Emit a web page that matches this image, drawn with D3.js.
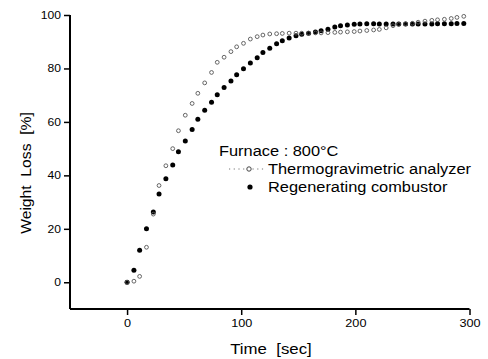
<!DOCTYPE html>
<html>
<head>
<meta charset="utf-8">
<script src="https://cdn.jsdelivr.net/npm/d3@7/dist/d3.min.js"></script>
<style>
  html, body { margin: 0; padding: 0; background: #fff; }
  svg { display: block; font-family: "Liberation Sans", Arial, Helvetica, sans-serif; }
  svg text { white-space: pre; }
</style>
</head>
<body>
<svg id="chart" width="488" height="359"></svg>
<script>
// Sampling times (s)
const times = [0, 6, 11, 17, 23, 28, 34, 40, 45, 51, 57, 62, 68, 74, 79, 85, 91, 96, 102, 108,
  114, 119, 125, 131, 136, 142, 148, 153, 159, 165, 170, 176, 182, 187, 193, 199, 204, 210,
  216, 221, 227, 233, 238, 244, 250, 255, 261, 267, 272, 278, 284, 289, 295];

// Weight loss (%) measured with the thermogravimetric analyzer
const tgaLoss = [0, 0.4, 2.2, 13.1, 25.5, 36.2, 43.6, 50, 56.7, 62.5, 66.9, 70.7, 74.6, 78.5,
  82.3, 84.2, 86.3, 88.1, 89.4, 91, 91.9, 92.5, 92.9, 93.0, 93.1, 93.2, 93.2, 93.2, 93.2, 93.3,
  93.3, 93.4, 93.5, 93.6, 93.7, 93.8, 94.0, 94.2, 94.4, 94.6, 95.2, 96.0, 96.5, 96.7, 96.9,
  97.3, 97.7, 98.0, 98.2, 98.4, 98.7, 99.1, 99.5];

// Weight loss (%) measured in the regenerating combustor
const combustorLoss = [0, 4.5, 12, 20, 26.3, 33, 38.7, 43.9, 48.8, 52.9, 57.2, 61, 64.4, 67.4,
  70.2, 72.9, 75.3, 77.6, 79.9, 82, 84, 86, 87.6, 89.2, 90.4, 91.4, 92.2, 92.8, 93.2, 93.6,
  94.1, 94.7, 95.5, 96.0, 96.3, 96.5, 96.6, 96.7, 96.7, 96.6, 96.6, 96.6, 96.6, 96.6, 96.6,
  96.6, 96.6, 96.6, 96.7, 96.7, 96.7, 96.8, 96.8];

const xTicks = [0, 100, 200, 300];
const xMinorTicks = [-50, 50, 150, 250];
const yTicks = [0, 20, 40, 60, 80, 100];
const yMinorTicks = [-10, 10, 30, 50, 70, 90];

const legendTitle = "Furnace : 800°C";
const seriesNames = ["Thermogravimetric analyzer", "Regenerating combustor"];
const xTitle = "Time  [sec]";
const yTitle = "Weight  Loss  [%]";

const svg = d3.select("#chart");

const x = d3.scaleLinear().domain([-50, 300]).range([70, 469.5]);
const y = d3.scaleLinear().domain([-10, 100]).range([309, 15]);

// widen glyphs horizontally, like the printed typeface
function stretch(sel, k) {
  sel.each(function () {
    const len = this.getComputedTextLength();
    d3.select(this).attr("textLength", len * k).attr("lengthAdjust", "spacingAndGlyphs");
  });
}

// X axis
const gx = svg.append("g").attr("transform", `translate(0,${y(-10)})`);
gx.call(d3.axisBottom(x).tickValues(xMinorTicks).tickSize(3).tickFormat(""));
gx.call(d3.axisBottom(x).tickValues(xTicks).tickSize(6).tickPadding(4).tickFormat(d3.format("d")));
gx.selectAll(".domain").remove();
gx.append("line").attr("x1", x(-50)).attr("x2", x(300)).attr("stroke", "#000").attr("stroke-width", 2);
gx.selectAll(".tick line").attr("stroke", "#000").attr("stroke-width", 1.5);
gx.selectAll(".tick text").attr("font-size", 11.5).attr("fill", "#000")
  .attr("font-family", "Liberation Sans, Arial, sans-serif").call(stretch, 1.1);

// Y axis
const gy = svg.append("g").attr("transform", `translate(${x(-50)},0)`);
gy.call(d3.axisLeft(y).tickValues(yMinorTicks).tickSize(3).tickFormat(""));
gy.call(d3.axisLeft(y).tickValues(yTicks).tickSize(6).tickPadding(3).tickFormat(d3.format("d")));
gy.selectAll(".domain").remove();
gy.append("line").attr("y1", y(-10)).attr("y2", y(100)).attr("stroke", "#000").attr("stroke-width", 2);
gy.selectAll(".tick line").attr("stroke", "#000").attr("stroke-width", 1.5);
gy.selectAll(".tick text").attr("font-size", 11).attr("fill", "#000")
  .attr("font-family", "Liberation Sans, Arial, sans-serif").call(stretch, 1.1);

// Axis titles
svg.append("text").attr("x", 271).attr("y", 354)
  .attr("text-anchor", "middle").attr("font-size", 15).text(xTitle).call(stretch, 1.12);
svg.append("text").attr("transform", `translate(31,173) rotate(-90)`)
  .attr("text-anchor", "middle").attr("font-size", 14).text(yTitle).call(stretch, 1.12);

// Data points
const tgaPts = times.map((t, i) => ({ t, v: tgaLoss[i] }));
const combPts = times.map((t, i) => ({ t, v: combustorLoss[i] }));

svg.append("g").selectAll("circle").data(combPts).join("circle")
  .attr("cx", d => x(d.t)).attr("cy", d => y(d.v)).attr("r", 2.5)
  .attr("fill", "#000");

svg.append("g").selectAll("circle").data(tgaPts).join("circle")
  .attr("cx", d => x(d.t)).attr("cy", d => y(d.v)).attr("r", 1.9)
  .attr("fill", "none").attr("stroke", "#555").attr("stroke-width", 0.9);

// Legend
const lg = svg.append("g");
lg.append("text").attr("x", 219).attr("y", 156).attr("font-size", 14).text(legendTitle).call(stretch, 1.17);
lg.append("line").attr("x1", 229).attr("x2", 265).attr("y1", 169).attr("y2", 169)
  .attr("stroke", "#777").attr("stroke-width", 1).attr("stroke-dasharray", "1.2,3.5");
lg.append("circle").attr("cx", 249).attr("cy", 169).attr("r", 2.2)
  .attr("fill", "#fff").attr("stroke", "#444").attr("stroke-width", 1);
lg.append("text").attr("x", 268).attr("y", 174).attr("font-size", 14).text(seriesNames[0]).call(stretch, 1.17);
lg.append("circle").attr("cx", 250).attr("cy", 187).attr("r", 2.6).attr("fill", "#000");
lg.append("text").attr("x", 268).attr("y", 192).attr("font-size", 14).text(seriesNames[1]).call(stretch, 1.17);
</script>
</body>
</html>
